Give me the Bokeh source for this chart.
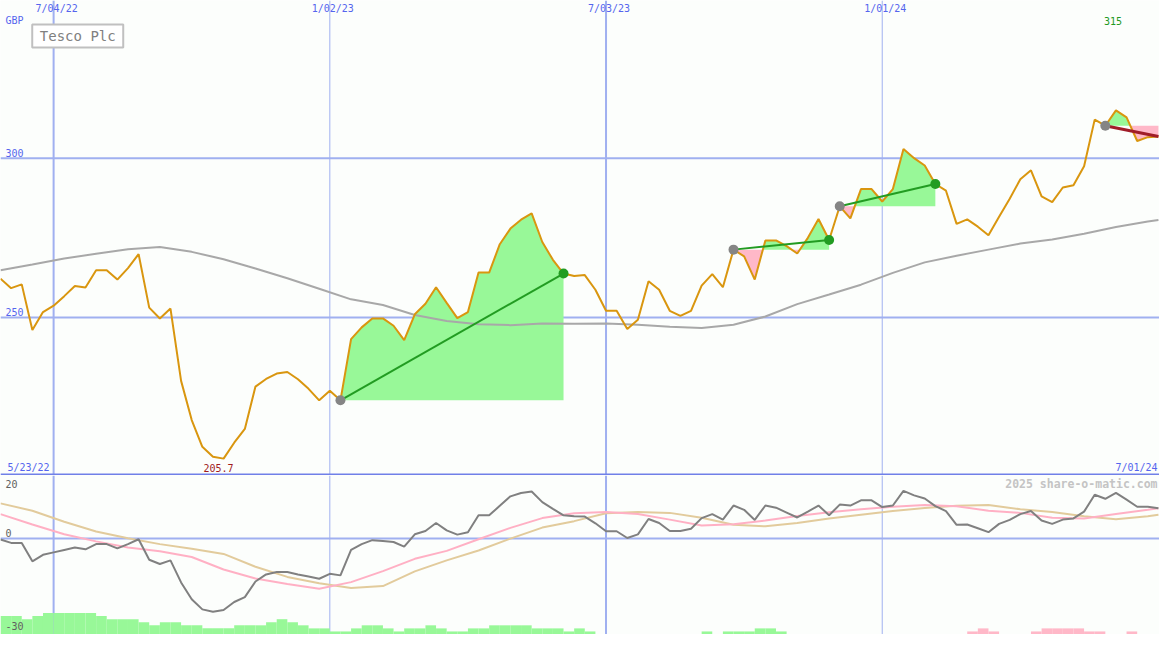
import numpy as np
import pandas as pd
from bokeh.plotting import figure
from bokeh.layouts import column
from bokeh.models import Range1d, Span
from bokeh.core.properties import value
from bokeh.embed import file_html
from bokeh.resources import INLINE

# ---------------- data (weekly, Mondays) ----------------
TITLE = "Tesco Plc"
CURRENCY = "GBP"
WEEK_START = "2022-05-30"
N_WEEKS = 110
FIRST_LABEL = "5/23/22"
LAST_LABEL = "7/01/24"
WATERMARK = "2025 share-o-matic.com"

PRICE = [262.2, 259.2, 260.4, 246.1, 251.7, 253.7, 256.7, 259.9, 259.4, 264.8,
         264.8, 261.9, 265.5, 269.9, 253.1, 249.7, 252.8, 230.1, 217.8, 209.4,
         206.3, 205.7, 210.7, 215.0, 228.3, 230.7, 232.4, 232.9, 230.6, 227.6,
         224.0, 227.0, 224.0, 243.2, 246.9, 249.7, 249.7, 247.4, 242.9, 251.0,
         254.3, 259.5, 254.6, 249.8, 251.7, 264.1, 264.1, 273.0, 277.9, 280.7,
         282.7, 273.7, 268.1, 263.8, 263.0, 263.3, 258.7, 252.1, 252.1, 246.4,
         249.3, 261.4, 258.7, 252.1, 250.5, 252.1, 260.0, 263.6, 259.5, 271.3,
         269.2, 261.9, 274.2, 274.2, 272.4, 270.1, 275.0, 280.9, 274.3, 284.9,
         281.1, 290.3, 290.3, 286.4, 290.3, 302.9, 300.0, 297.7, 291.9, 289.8,
         279.4, 280.8, 278.5, 275.8, 281.6, 287.3, 293.4, 296.2, 288.0, 286.2,
         290.8, 291.5, 297.5, 312.1, 310.2, 315.0, 312.8, 305.4, 306.6, 306.8]

# long moving average, read every third week
MA_WEEKS = [0, 3, 6, 9, 12, 15, 18, 21, 24, 27, 30, 33, 36, 39, 42, 45, 48, 51, 54,
            57, 60, 63, 66, 69, 72, 75, 78, 81, 84, 87, 90, 93, 96, 99, 102, 105, 108, 109]
MA_LONG = [264.8, 266.6, 268.5, 270.0, 271.4, 272.1, 270.6, 268.3, 265.4, 262.3,
           259.0, 255.7, 253.9, 250.8, 248.9, 247.9, 247.6, 248.1, 248.0, 248.1,
           247.7, 247.1, 246.7, 247.7, 250.3, 254.2, 257.2, 260.3, 264.0, 267.3,
           269.4, 271.3, 273.2, 274.5, 276.3, 278.4, 280.1, 280.6]

# lower panel oscillator (weekly)
OSC = [-0.3, -1.4, -1.4, -7.4, -5.3, -4.5, -3.7, -2.9, -3.5, -1.8,
       -1.8, -3.2, -1.8, -0.2, -6.9, -8.3, -7.1, -14.3, -19.8, -23.1,
       -23.9, -23.3, -20.7, -19.1, -14.0, -11.7, -10.9, -10.9, -11.7, -12.4,
       -13.1, -11.5, -12.0, -3.7, -1.8, -0.5, -0.8, -1.1, -2.6, 1.4,
       2.5, 5.1, 2.7, 1.3, 2.1, 7.6, 7.6, 10.7, 13.8, 14.9,
       15.4, 11.9, 9.7, 7.6, 7.3, 7.2, 5.0, 2.4, 2.4, 0.2,
       1.4, 6.4, 5.1, 2.5, 2.5, 3.2, 6.7, 8.0, 6.2, 10.8,
       9.4, 6.1, 10.8, 10.1, 8.5, 6.9, 8.8, 10.8, 7.6, 11.1,
       10.8, 12.5, 12.5, 10.3, 10.8, 15.6, 14.1, 13.1, 10.6, 9.0,
       4.5, 4.6, 3.4, 2.1, 4.8, 6.1, 8.0, 9.0, 5.9, 4.8,
       6.2, 6.6, 8.8, 14.3, 13.0, 14.9, 12.7, 10.4, 10.4, 9.9]
# oscillator averages, read at MA_WEEKS
OSC_FAST = [8.0, 4.6, 1.4, -0.9, -2.9, -4.1, -6.0, -10.1, -13.0, -14.8,
            -16.4, -14.2, -10.6, -6.6, -4.0, -0.2, 3.5, 6.7, 8.3, 8.7,
            8.0, 6.2, 4.3, 4.7, 5.9, 7.4, 8.6, 9.6, 10.4, 11.0,
            10.6, 9.1, 8.4, 6.8, 6.6, 8.0, 9.4, 9.9]
OSC_SLOW = [11.5, 9.1, 5.5, 2.3, 0.1, -1.8, -3.3, -5.0, -9.2, -12.5,
            -14.6, -16.1, -15.5, -10.7, -7.1, -3.9, 0.0, 3.6, 5.7, 8.3,
            8.7, 8.4, 6.8, 4.5, 4.0, 5.1, 6.6, 7.8, 9.0, 10.0,
            10.7, 11.0, 9.6, 8.7, 7.3, 6.3, 7.3, 7.8]
# weekly histogram levels (positive = green, negative = pink)
HIST = [6, 6, 5, 6, 7, 7, 7, 7, 7, 6,
        5, 5, 5, 4, 3, 4, 4, 3, 3, 2,
        2, 2, 3, 3, 3, 4, 5, 4, 3, 2,
        2, 1, 1, 2, 3, 3, 2, 1, 2, 2,
        3, 2, 1, 1, 2, 2, 3, 3, 3, 3,
        2, 2, 2, 1, 2, 1, 0, 0, 0, 0,
        0, 0, 0, 0, 0, 0, 1, 0, 1, 1,
        1, 2, 2, 1, 0, 0, 0, 0, 0, 0,
        0, 0, 0, 0, 0, 0, 0, 0, 0, 0,
        0, -1, -2, -1, 0, 0, 0, -1, -2, -2,
        -2, -2, -1, -1, 0, 0, -1, 0, 0, 0]

# trend segments (start week, end week)
TRENDS = [(32, 53), (69, 78), (79, 88), (104, 109)]

GRID_DATES = ["2022-07-04", "2023-01-02", "2023-07-03", "2024-01-01"]
GRID_LABELS = ["7/04/22", "1/02/23", "7/03/23", "1/01/24"]
GRID_WIDTHS = [2, 1, 2, 1]
PRICE_TICKS = [300, 250]
OSC_TICKS = [20, 0, -30]

# ---------------- style ----------------
FONT = "DejaVu Sans Mono"
BG = "#fcfefc"
GRID = "#a0b0f0"
BORDER = "#7080e8"
TXT_BLUE = "#5565ee"
PRICE_C = "#d9960f"
MA_C = "#a8a8a8"
GREEN_FILL = "#98f898"
PINK_FILL = "#ffb8c8"
UP_C = "#229c22"
DOWN_C = "#a01c28"
DOT_GREY = "#858585"
OSC_GREY = "#808080"
OSC_PINK = "#ffb0c4"
OSC_TAN = "#e2cb9c"
MIN_C = "#a01c1c"
MAX_C = "#229922"
OSC_TXT = "#606060"
WM_C = "#c4c4c4"

W, H1, H2 = 1159, 475, 159
REF_W, REF_H1, REF_H2 = 1175.0, 487.0, 163.0
P_BOT, P_TOP = 200.4, 349.5
O_BOT, O_TOP = -31.3, 20.6

DAY = 86400000.0
dates = pd.date_range(WEEK_START, periods=N_WEEKS, freq="7D")
xms = dates.values.astype("datetime64[ms]").astype(np.int64).astype(float)
X0 = xms[0]
X1 = X0 + 763.7 * DAY
price = np.array(PRICE)


def rx(px):
    return X0 + px / REF_W * (X1 - X0)


def ry(px):
    return P_TOP - px / REF_H1 * (P_TOP - P_BOT)


def oy(px):
    return O_TOP - (px - REF_H1) / REF_H2 * (O_TOP - O_BOT)


def mk(h, yr):
    p = figure(width=W, height=h, x_range=xr, y_range=Range1d(*yr),
               output_backend="svg", toolbar_location=None,
               x_axis_location=None, y_axis_location=None,
               min_border=0, background_fill_color=BG, border_fill_color=BG,
               outline_line_color=None)
    p.grid.visible = False
    return p


xr = Range1d(X0, X1)
p1 = mk(H1, (P_BOT, P_TOP))
p2 = mk(H2, (O_BOT, O_TOP))

grid_ms = pd.to_datetime(GRID_DATES).values.astype("datetime64[ms]").astype(np.int64).astype(float)
for p in (p1, p2):
    for g, lw in zip(grid_ms, GRID_WIDTHS):
        p.add_layout(Span(location=g, dimension="height", line_color=GRID,
                          line_width=lw, level="underlay"))
for t in PRICE_TICKS:
    p1.add_layout(Span(location=t, dimension="width", line_color=GRID,
                       line_width=2, level="underlay"))
p2.add_layout(Span(location=0, dimension="width", line_color=GRID,
                   line_width=2, level="underlay"))
p1.add_layout(Span(location=P_BOT + 0.3, dimension="width", line_color=BORDER,
                   line_width=2))

# ---------------- trend fills ----------------
for s, e in TRENDS:
    base = price[s]
    X = [xms[s]]
    Y = [price[s]]
    for k in range(s, e):
        a, b = price[k] - base, price[k + 1] - base
        if a * b < 0:
            t = a / (a - b)
            X.append(xms[k] + t * (xms[k + 1] - xms[k]))
            Y.append(base)
        X.append(xms[k + 1])
        Y.append(price[k + 1])
    X = np.array(X)
    Y = np.array(Y)
    B = np.full_like(Y, base)
    p1.varea(x=X, y1=B, y2=np.maximum(Y, B), fill_color=GREEN_FILL)
    p1.varea(x=X, y1=np.minimum(Y, B), y2=B, fill_color=PINK_FILL)

ma_x = xms[np.array(MA_WEEKS)]
p1.line(ma_x, MA_LONG, line_color=MA_C, line_width=2)
p1.line(xms, price, line_color=PRICE_C, line_width=2)

for s, e in TRENDS:
    col = UP_C if price[e] >= price[s] else DOWN_C
    p1.line([xms[s], xms[e]], [price[s], price[e]], line_color=col,
            line_width=2 if col == UP_C else 3)
    p1.scatter([xms[s]], [price[s]], size=10, fill_color=DOT_GREY, line_color=None)
    if e < N_WEEKS - 1:
        p1.scatter([xms[e]], [price[e]], size=10, fill_color=UP_C, line_color=None)

# ---------------- main panel texts ----------------
def txt(p, x, y, s, color, size="10px", align="left", bold=False, x_off=0):
    p.text(x=[x], y=[y], text=[s], text_color=color, text_font=value(FONT),
           text_font_size=size, text_align=align, text_baseline="middle",
           text_font_style="bold" if bold else "normal", x_offset=x_off)


for g, lab in zip(grid_ms, GRID_LABELS):
    txt(p1, g, ry(8), lab, TXT_BLUE, align="center", x_off=3)
txt(p1, rx(5), ry(21), CURRENCY, TXT_BLUE)
for t in PRICE_TICKS:
    txt(p1, rx(5), t + (ry(156) - ry(161.7)), str(t), TXT_BLUE)
txt(p1, rx(7), ry(479), FIRST_LABEL, TXT_BLUE)
txt(p1, rx(1173), ry(479), LAST_LABEL, TXT_BLUE, align="right")
imin = int(np.argmin(price))
imax = int(np.argmax(price))
txt(p1, xms[imin], ry(479), f"{price[imin]:.1f}", MIN_C, align="center", x_off=-5)
txt(p1, xms[imax], ry(21), f"{price[imax]:.0f}", MAX_C, align="center", x_off=-3)

p1.rect(x=[rx(78.3)], y=[ry(36.3)], width=91, height=23, width_units="screen",
        height_units="screen", fill_color="white", line_color="#c0c0c0", line_width=2)
txt(p1, rx(78.3), ry(36.3), TITLE, "#808080", size="14px", align="center")

# ---------------- lower panel ----------------
hist = np.array(HIST)
pos = hist > 0
neg = hist < 0
p2.quad(left=xms[pos], right=xms[pos] + 7 * DAY, bottom=O_BOT,
        top=O_BOT + hist[pos] * 1.0, fill_color=GREEN_FILL, line_color=None)
p2.quad(left=xms[neg], right=xms[neg] + 7 * DAY, bottom=O_BOT,
        top=O_BOT - hist[neg] * 1.0, fill_color=PINK_FILL, line_color=None)

p2.line(ma_x, OSC_SLOW, line_color=OSC_TAN, line_width=2)
p2.line(ma_x, OSC_FAST, line_color=OSC_PINK, line_width=2)
p2.line(xms, OSC, line_color=OSC_GREY, line_width=2)

txt(p2, rx(5), oy(496), str(OSC_TICKS[0]), OSC_TXT)
txt(p2, rx(5), oy(546), str(OSC_TICKS[1]), OSC_TXT)
txt(p2, rx(5), oy(641), str(OSC_TICKS[2]), OSC_TXT)
txt(p2, rx(1173), oy(496), WATERMARK, WM_C, size="11.5px", align="right", bold=True)

layout = column(p1, p2, spacing=0)
open("out.html", "w").write(file_html(layout, INLINE))
